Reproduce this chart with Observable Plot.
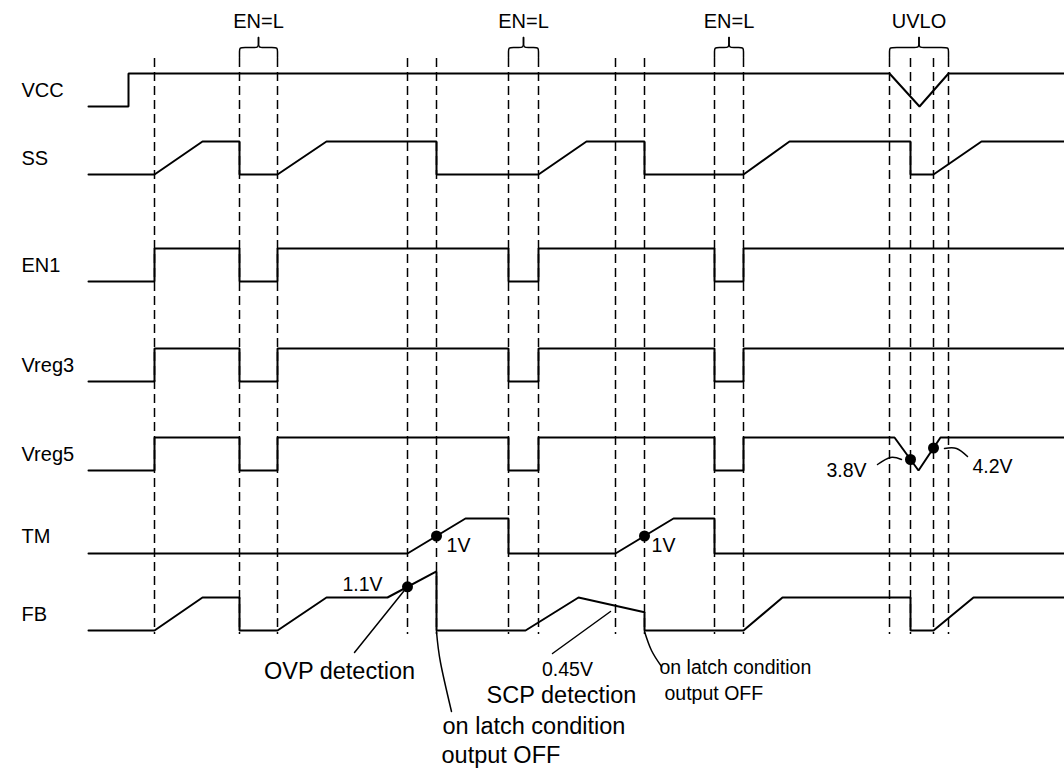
<!DOCTYPE html>
<html><head><meta charset="utf-8">
<script src="https://cdn.jsdelivr.net/npm/d3@7"></script>
<script src="https://cdn.jsdelivr.net/npm/@observablehq/plot@0.6"></script>
<style>body{margin:0;background:#fff} svg{display:block}</style>
</head><body><div id="chart"></div>
<script>
// ---- data: timing of each signal (time units) and normalized level (0 = low, 1 = high)
const signalNames = ["VCC", "SS", "EN1", "Vreg3", "Vreg5", "TM", "FB"];

const vccT  = [88, 128, 128, 889, 919, 948, 1064];
const vccLv = [0, 0, 1, 1, 0, 1, 1];

const ssT  = [88, 154, 202, 239, 239, 277, 326, 436, 436, 538, 586, 644, 644, 743, 789, 910, 910, 933, 981, 1064];
const ssLv = [0, 0, 1, 1, 0, 0, 1, 1, 0, 0, 1, 1, 0, 0, 1, 1, 0, 0, 1, 1];

const en1T  = [88, 154, 154, 239, 239, 277, 277, 508, 508, 538, 538, 714, 714, 743, 743, 1064];
const en1Lv = [0, 0, 1, 1, 0, 0, 1, 1, 0, 0, 1, 1, 0, 0, 1, 1];

const vreg3T  = [88, 154, 154, 239, 239, 277, 277, 508, 508, 538, 538, 714, 714, 743, 743, 1064];
const vreg3Lv = [0, 0, 1, 1, 0, 0, 1, 1, 0, 0, 1, 1, 0, 0, 1, 1];

const vreg5T  = [88, 154, 154, 239, 239, 277, 277, 508, 508, 538, 538, 714, 714, 743, 743, 894, 918, 940, 1064];
const vreg5Lv = [0, 0, 1, 1, 0, 0, 1, 1, 0, 0, 1, 1, 0, 0, 1, 1, 0, 1, 1];

const tmT  = [88, 407, 465, 508, 508, 615, 673, 714, 714, 1064];
const tmLv = [0, 0, 1, 1, 0, 0, 1, 1, 0, 0];

const fbT  = [88, 154, 202, 239, 239, 277, 326, 387, 436, 436, 525, 578, 644, 644, 743, 782, 910, 910, 933, 973, 1064];
const fbLv = [0, 0, 1, 1, 0, 0, 1, 1, 1.79, 0, 0, 1, 0.55, 0, 0, 1, 1, 0, 0, 1, 1];

// event (dashed) times
const eventTimes = [154, 239, 277, 407, 436, 508, 538, 615, 644, 714, 743, 889, 910, 933, 948];

// bracketed intervals and their labels
const braceStart  = [239, 508, 714, 889];
const braceEnd    = [277, 538, 743, 948];
const braceLabels = ["EN=L", "EN=L", "EN=L", "UVLO"];

// detection dots: time and signal
const dotTimes   = [407, 436, 644, 910, 933];
const dotSignals = ["FB", "TM", "TM", "Vreg5", "Vreg5"];

// threshold labels
const thresholdLabels = ["1.1V", "1V", "1V", "3.8V", "4.2V", "0.45V"];

// annotation texts
const detectLabels = ["OVP detection", "SCP detection"];
const latchLines   = ["on latch condition", "output OFF"];

// ---- layout
const W = 1064, H = 769;
const laneBase = {VCC: 106, SS: 174, EN1: 281, Vreg3: 381, Vreg5: 470, TM: 553, FB: 630};
const laneAmp  = {VCC: 33, SS: 33, EN1: 33, Vreg3: 33, Vreg5: 33, TM: 35, FB: 33};
const FONT = "'Liberation Sans', Arial, Helvetica, sans-serif";

const series = {VCC: [vccT, vccLv], SS: [ssT, ssLv], EN1: [en1T, en1Lv], Vreg3: [vreg3T, vreg3Lv],
                Vreg5: [vreg5T, vreg5Lv], TM: [tmT, tmLv], FB: [fbT, fbLv]};

const wave = [];
for (const name of signalNames) {
  const [t, lv] = series[name];
  t.forEach((ti, i) => wave.push({name, t: ti, y: laneBase[name] - lv[i] * laneAmp[name]}));
}

function levelAt(name, t) {
  const [ts, lv] = series[name];
  for (let i = 0; i < ts.length - 1; i++) {
    if (t >= ts[i] && t <= ts[i + 1] && ts[i + 1] > ts[i]) {
      const f = (t - ts[i]) / (ts[i + 1] - ts[i]);
      return lv[i] + f * (lv[i + 1] - lv[i]);
    }
  }
  return 0;
}
const dots = dotTimes.map((t, i) => ({t, y: laneBase[dotSignals[i]] - levelAt(dotSignals[i], t) * laneAmp[dotSignals[i]]}));

const nameLabels = signalNames.map(n => ({n, y: laneBase[n] - laneAmp[n] / 2 + 1}));

// braces
const braces = [];
braceStart.forEach((L, i) => {
  const R = braceEnd[i], C = (L + R) / 2, k = `b${i}`;
  const half = (S, sgn, id) => [[S, 57], [S, 51], [S, 47], [S + sgn * 5, 47], [C - sgn * 5, 47], [C, 47], [C, 42], [C, 37]]
    .forEach(([t, y]) => braces.push({id, t, y}));
  half(L, 1, k + "l");
  half(R, -1, k + "r");
});
const braceText = braceStart.map((L, i) => ({t: (L + braceEnd[i]) / 2, label: braceLabels[i]}));

// annotation leaders
const leaders = [
  {id: "ovp",    pts: [[407, 586], [354, 652]]},
  {id: "latch1", pts: [[436, 631], [440, 662], [451, 711]]},
  {id: "scp",    pts: [[610, 611], [552, 653]]},
  {id: "latch2", pts: [[644, 631], [651, 650], [661, 666]]},
  {id: "v38",    pts: [[877, 464], [890, 457], [901, 459]]},
  {id: "v42",    pts: [[944, 448], [956, 448], [967, 456]]}
].flatMap(d => d.pts.map(([t, y]) => ({id: d.id, t, y})));

const thrPos = [[362, 584], [458, 545], [663, 545], [846, 470], [992, 466], [567, 669]];
const thr = thresholdLabels.map((s, i) => ({s, t: thrPos[i][0], y: thrPos[i][1]}));

const detect = [
  {s: detectLabels[0], t: 339, y: 671},
  {s: detectLabels[1], t: 561, y: 695}
];
const latchBig = [
  {s: latchLines[0], t: 442, y: 726},
  {s: latchLines[1], t: 441, y: 755}
];
const latchSmall = [
  {s: latchLines[0], t: 659, y: 667},
  {s: latchLines[1], t: 664, y: 693}
];

const chart = Plot.plot({
  width: W, height: H,
  margin: 0,
  style: {background: "#fff", fontFamily: FONT},
  x: {domain: [0, W], range: [0, W], axis: null},
  y: {domain: [0, H], range: [0, H], axis: null},
  marks: [
    Plot.ruleX(eventTimes, {x: d => d, y1: 58, y2: 634, stroke: "#000", strokeWidth: 1.5, strokeDasharray: "9,5"}),
    Plot.line(braces, {x: "t", y: "y", z: "id", curve: "basis", stroke: "#000", strokeWidth: 1.5}),
    Plot.line(wave, {x: "t", y: "y", z: "name", stroke: "#000", strokeWidth: 2, strokeLinejoin: "miter"}),
    Plot.line(leaders, {x: "t", y: "y", z: "id", curve: "natural", stroke: "#000", strokeWidth: 1.5}),
    Plot.dot(dots, {x: "t", y: "y", r: 5.5, fill: "#000", stroke: "none"}),
    Plot.text(nameLabels, {x: 21, y: "y", text: "n", textAnchor: "start", fontSize: 20, fill: "#000"}),
    Plot.text(braceText, {x: "t", y: 21, text: "label", fontSize: 20, fill: "#000"}),
    Plot.text(thr, {x: "t", y: "y", text: "s", fontSize: 19.5, fill: "#000"}),
    Plot.text(detect, {x: "t", y: "y", text: "s", fontSize: 23.5, fill: "#000"}),
    Plot.text(latchBig, {x: "t", y: "y", text: "s", textAnchor: "start", fontSize: 23.5, fill: "#000"}),
    Plot.text(latchSmall, {x: "t", y: "y", text: "s", textAnchor: "start", fontSize: 19.5, fill: "#000"})
  ]
});
document.getElementById("chart").appendChild(chart);
</script>
</body></html>
